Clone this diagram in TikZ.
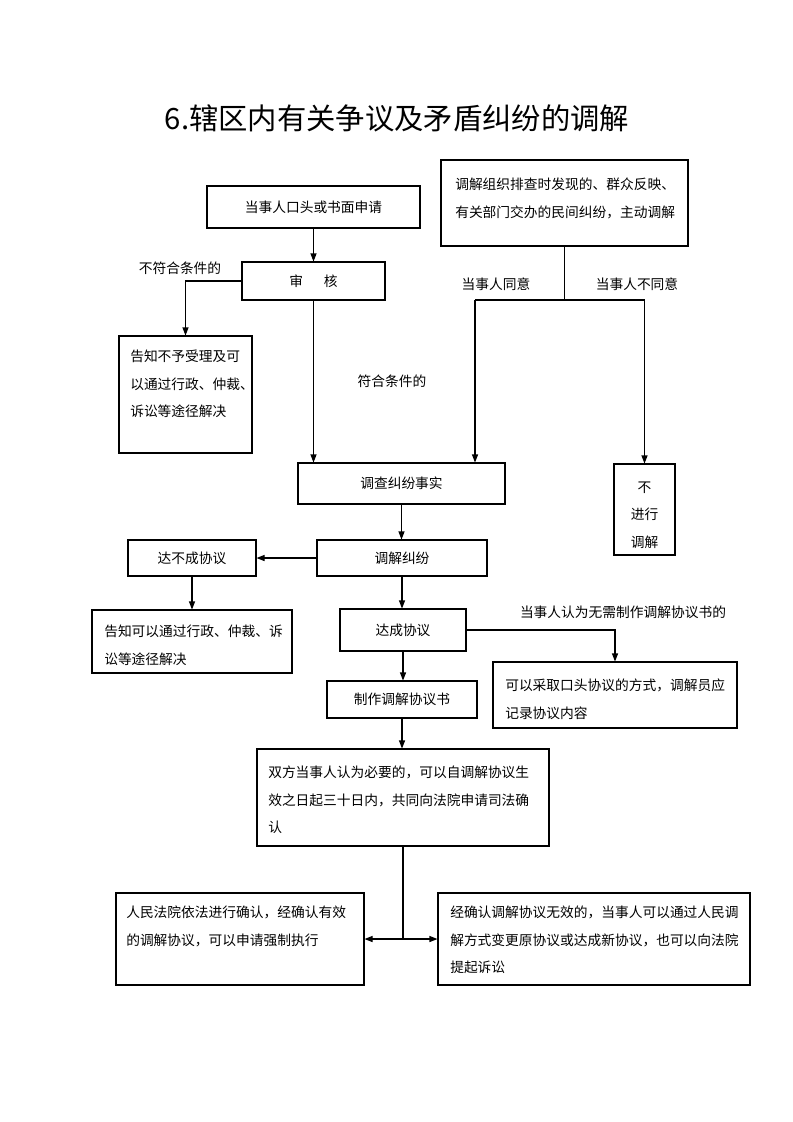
\documentclass[tikz,border=0pt]{standalone}
\usepackage{fontspec}
\setmainfont{Noto Sans CJK SC}
\usetikzlibrary{arrows.meta,fit}
\begin{document}
\begin{tikzpicture}[x=0.75pt,y=-0.75pt,
  box/.style={draw,line width=0.8pt,inner sep=0pt},
  arr/.style={line width=0.8pt,-{Triangle[length=6pt,width=4.5pt]}},
  ln/.style={line width=0.8pt},
  txt/.style={inner sep=0pt,font=\fontsize{10.3pt}{20.6pt}\selectfont},
  ml/.style={txt,align=left,anchor=north west}]
\useasboundingbox (0,0) rectangle (793,1122);
\node[inner sep=0pt,font=\fontsize{22pt}{26pt}\selectfont] (title) at (397,118) {6.辖区内有关争议及矛盾纠纷的调解};
% boxes
\node[box,fit={(207,186)(420,228)}] (A) {};
\node[txt] (At) at (A.center) {当事人口头或书面申请};
\node[box,fit={(441,160)(688,246)}] (B) {};
\node[ml] (Bt) at (455,178) {调解组织排查时发现的、群众反映、\\有关部门交办的民间纠纷，主动调解};
\node[box,fit={(242,262)(385,300)}] (C) {};
\node[txt] (Ct) at (C.center) {审\hspace{1.5em}核};
\node[box,fit={(119,336)(252,453)}] (D) {};
\node[ml] (Dt) at (130,350) {告知不予受理及可\\以通过行政、仲裁、\\诉讼等途径解决};
\node[box,fit={(298,463)(505,504)}] (E) {};
\node[txt] (Et) at (E.center) {调查纠纷事实};
\node[box,fit={(614,464)(675,555)}] (F) {};
\node[txt,align=center] (Ft) at (644.5,515) {不\\进行\\调解};
\node[box,fit={(317,540)(487,576)}] (G) {};
\node[txt] (Gt) at (G.center) {调解纠纷};
\node[box,fit={(128,540)(256,576)}] (H) {};
\node[txt] (Ht) at (H.center) {达不成协议};
\node[box,fit={(92,610)(292,673)}] (I) {};
\node[ml] (It) at (104,625) {告知可以通过行政、仲裁、诉\\讼等途径解决};
\node[box,fit={(340,609)(466,651)}] (J) {};
\node[txt] (Jt) at (J.center) {达成协议};
\node[box,fit={(493,662)(737,728)}] (K) {};
\node[ml] (Kt) at (505,679) {可以采取口头协议的方式，调解员应\\记录协议内容};
\node[box,fit={(327,681)(477,718)}] (L) {};
\node[txt] (Lt) at (L.center) {制作调解协议书};
\node[box,fit={(257,749)(549,846)}] (M) {};
\node[ml] (Mt) at (268,766) {双方当事人认为必要的，可以自调解协议生\\效之日起三十日内，共同向法院申请司法确\\认};
\node[box,fit={(116,893)(364,985)}] (N) {};
\node[ml] (Nt) at (126,906) {人民法院依法进行确认，经确认有效\\的调解协议，可以申请强制执行};
\node[box,fit={(438,893)(750,985)}] (O) {};
\node[ml] (Ot) at (450,906) {经确认调解协议无效的，当事人可以通过人民调\\解方式变更原协议或达成新协议，也可以向法院\\提起诉讼};
% labels
\node[txt] (l1) at (180,268) {不符合条件的};
\node[txt] (l2) at (392,381) {符合条件的};
\node[txt] (l3) at (496,284) {当事人同意};
\node[txt] (l4) at (637,284) {当事人不同意};
\node[txt] (l5) at (623,612) {当事人认为无需制作调解协议书的};
% connectors
\draw[arr] (A.south) -- (C.north);
\draw[arr] (C.west) -| (D.north);
\draw[arr] (C.south) -- (C.south |- E.north);
\coordinate (bs) at (B.south |- 0,300);
\coordinate (bl) at (475,300);
\coordinate (br) at (F.north |- 0,300);
\draw[ln] (B.south) -- (bs);
\draw[ln] (bl) -- (br);
\draw[arr] (bl) -- (bl |- E.north);
\draw[arr] (br) -- (F.north);
\draw[arr] (E.south) -- (E.south |- G.north);
\draw[arr] (G.west) -- (H.east);
\draw[arr] (H.south) -- (H.south |- I.north);
\draw[arr] (G.south) -- (G.south |- J.north);
\draw[arr] (J.east) -| (K.north);
\draw[arr] (J.south) -- (J.south |- L.north);
\draw[arr] (L.south) -- (L.south |- M.north);
\coordinate (mc) at (M.south |- N.east);
\draw[ln] (M.south) -- (mc);
\draw[arr] (mc) -- (N.east);
\draw[arr] (mc) -- (mc -| O.west);
\end{tikzpicture}
\end{document}
